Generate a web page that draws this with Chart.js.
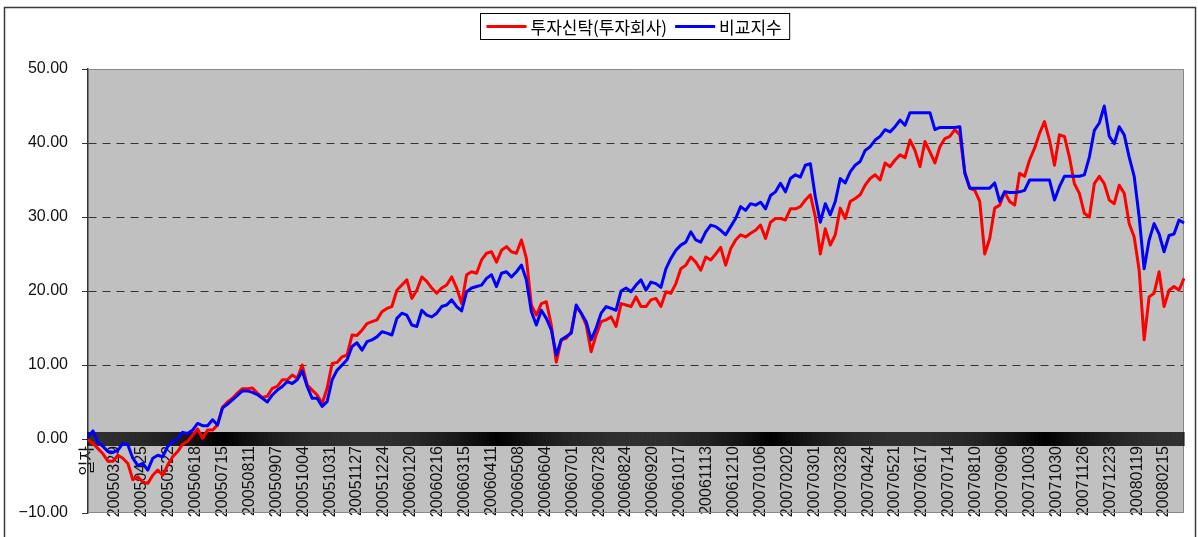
<!DOCTYPE html>
<html>
<head>
<meta charset="utf-8">
<script src="https://cdn.jsdelivr.net/npm/chart.js@4.4.1/dist/chart.umd.min.js"></script>
<style>
html,body{margin:0;padding:0;background:#fff;}
canvas{display:block;}
</style>
</head>
<body>
<canvas id="c" width="1198" height="537"></canvas>
<script>
// ---------- data ----------
const seriesNames = ['투자신탁(투자회사)', '비교지수'];
const categoryCount = 1101;      // one category per calendar day from 2005-03-02
const sampleStep = 5;            // values read every 5th day
const tickStep = 27;             // a label every 27th category
const tickLabels = ['일자','20050329','20050425','20050522','20050618','20050715','20050811','20050907',
  '20051004','20051031','20051127','20051224','20060120','20060216','20060315','20060411','20060508',
  '20060604','20060701','20060728','20060824','20060920','20061017','20061113','20061210','20070106',
  '20070202','20070301','20070328','20070424','20070521','20070617','20070714','20070810','20070906',
  '20071003','20071030','20071126','20071223','20080119','20080215'];

const fundValues = [
  -0.1,-0.6,-1.3,-2.0,-3.0,-3.0,-2.2,-2.6,-3.3,-5.5,-5.1,-5.8,-6.0,-4.9,-4.2,-4.9,-3.5,-2.4,-1.7,-0.7,
  -0.3,0.5,1.35,0.1,1.2,1.2,1.9,4.3,5.0,5.5,6.2,6.8,6.8,6.9,6.2,5.6,5.8,6.85,
  7.1,8.0,8.0,8.65,8.2,10.0,7.3,6.6,5.95,4.8,6.85,10.2,10.35,11.1,11.35,14.05,14.0,14.7,15.6,15.85,16.1,
  17.2,17.65,17.9,20.1,20.8,21.5,19.0,20.1,21.9,21.3,20.4,19.7,20.4,20.8,21.9,20.4,
  18.3,22.2,22.6,22.4,24.2,25.1,25.3,23.9,25.5,26.0,25.3,25.1,26.9,24.4,18.1,16.75,18.3,18.55,15.4,10.4,
  13.4,13.6,14.5,17.9,17.0,15.4,11.8,14.05,15.85,16.1,16.5,15.2,18.3,18.1,17.9,19.2,17.9,
  17.9,18.8,19.0,17.9,19.9,19.7,21.0,23.0,23.5,24.6,23.9,22.8,24.6,24.2,25.0,25.9,23.5,25.7,26.9,27.6,
  27.3,27.8,28.2,28.9,27.1,29.3,29.8,29.8,29.6,31.1,31.1,31.4,32.3,33.0,30.0,25.0,28.4,
  26.2,27.6,31.2,29.8,32.1,32.5,33.0,34.3,35.2,35.7,35.0,37.3,36.8,37.7,38.4,38.0,40.4,39.0,36.8,40.2,
  38.8,37.3,39.5,40.6,40.9,41.8,41.1,36.1,33.9,33.6,32.1,25.0,27.1,31.2,31.6,33.4,32.1,31.6,
  35.9,35.5,37.7,39.3,41.3,42.9,40.4,37.0,41.1,40.9,38.1,34.5,33.2,30.5,30.0,34.5,35.5,34.5,32.3,31.8,
  34.3,33.2,29.1,27.3,22.8,13.4,19.2,19.7,22.6,17.9,20.1,20.6,20.1,21.7
];
const indexValues = [
  0.3,1.1,-0.45,-1.0,-1.7,-1.8,-1.5,-0.6,-0.8,-2.6,-3.6,-3.3,-4.2,-2.6,-2.2,-2.4,-1.0,-0.4,0.1,0.9,
  0.75,1.2,2.1,1.8,1.8,2.6,1.9,4.2,4.7,5.3,5.9,6.5,6.5,6.3,6.0,5.5,5.0,5.95,
  6.6,7.1,7.75,7.5,8.0,9.2,7.1,5.5,5.5,4.4,5.05,8.0,9.3,10.0,10.7,12.5,13.0,12.0,13.15,13.4,13.8,
  14.5,14.3,14.05,16.3,17.0,16.75,15.4,15.2,17.4,16.75,16.5,17.0,17.9,18.1,18.8,17.9,
  17.3,19.9,20.4,20.6,20.8,21.7,22.2,20.6,22.4,22.6,21.9,22.6,23.5,21.5,17.2,15.4,17.4,16.3,14.75,11.35,
  13.4,13.85,14.3,18.1,17.0,15.85,13.4,15.0,17.0,17.9,17.65,17.4,20.0,20.4,19.9,20.8,21.5,
  20.1,21.2,21.0,20.5,23.0,24.4,25.5,26.2,26.6,28.0,26.9,26.6,28.0,28.9,28.7,28.2,27.6,28.7,29.8,31.4,
  30.9,31.8,31.6,32.0,31.1,32.9,33.4,34.55,33.4,35.2,35.7,35.4,37.0,37.2,32.7,29.3,31.8,
  30.3,32.1,35.2,34.6,36.1,37.0,37.5,39.0,39.5,40.4,40.9,41.8,41.5,42.2,43.1,42.4,44.1,44.1,44.1,44.1,
  44.1,41.8,42.1,42.1,42.1,42.1,42.2,35.9,33.9,33.9,33.9,33.9,33.9,34.6,32.1,33.4,33.3,33.3,
  33.4,33.6,35.0,35.0,35.0,35.0,35.0,32.3,34.1,35.5,35.5,35.5,35.5,35.7,38.1,41.7,42.7,45.0,40.9,39.9,
  42.2,41.1,38.1,35.5,30.0,23.0,26.9,29.1,27.7,25.3,27.5,27.7,29.6,29.2
];
const yMin = -10, yMax = 50, yStep = 10;

// ---------- categories ----------
const categories = [];
for (let i = 0; i < categoryCount; i++) {
  const d = new Date(2005, 2, 2 + i);
  categories.push(i === 0 ? '일자' :
    '' + d.getFullYear() + String(d.getMonth() + 1).padStart(2, '0') + String(d.getDate()).padStart(2, '0'));
}
const expand = vals => categories.map((_, i) => (i % sampleStep === 0 ? vals[i / sampleStep] : null));

const latin = '"Liberation Sans", Arial, "Noto Sans CJK KR", sans-serif';

// ---------- plugins ----------
const framePlugin = {
  id: 'frame',
  beforeDraw(chart) {
    const {ctx, chartArea: a} = chart;
    ctx.save();
    ctx.fillStyle = '#ffffff';
    ctx.fillRect(0, 0, chart.width, chart.height);
    ctx.strokeStyle = '#3a3a3a';
    ctx.lineWidth = 1.5;
    ctx.strokeRect(4.5, 7.5, 1191, 600);
    ctx.fillStyle = '#c0c0c0';
    ctx.fillRect(a.left, a.top, a.right - a.left, a.bottom - a.top);
    ctx.restore();
  },
  beforeDatasetsDraw(chart) {
    const {ctx, chartArea: a, scales: {x, y}} = chart;
    ctx.save();
    ctx.strokeStyle = '#888888';
    ctx.lineWidth = 1;
    ctx.beginPath();
    ctx.moveTo(a.left, a.top + 0.5); ctx.lineTo(a.right - 0.5, a.top + 0.5);
    ctx.lineTo(a.right - 0.5, a.bottom - 0.5); ctx.lineTo(a.left, a.bottom - 0.5);
    ctx.stroke();
    // crossing tick marks of the category axis at y = 0
    const y0 = y.getPixelForValue(0);
    ctx.strokeStyle = '#000000';
    ctx.lineWidth = 1;
    ctx.beginPath();
    for (let i = 0; i < categoryCount; i++) {
      const px = x.getPixelForValue(i);
      ctx.moveTo(px, y0 - 7);
      ctx.lineTo(px, y0 + 7);
    }
    ctx.stroke();
    ctx.restore();
  },
  afterDraw(chart) {
    const ctx = chart.ctx;
    const ds = chart.data.datasets;
    ctx.save();
    ctx.font = '17px "Noto Sans CJK KR", sans-serif';
    const items = ds.map(d => ({color: d.borderColor, text: d.label, w: ctx.measureText(d.label).width}));
    const lineLen = 40, gap = 4, itemGap = 8, padL = 6, padR = 8;
    let total = padL + padR;
    items.forEach((it, i) => { total += lineLen + gap + it.w + (i < items.length - 1 ? itemGap : 0); });
    const cx = 634.5, top = 13.5, h = 26;
    const left = Math.round(cx - total / 2) + 0.5;
    ctx.fillStyle = '#ffffff';
    ctx.fillRect(left, top, total, h);
    ctx.strokeStyle = '#000000';
    ctx.lineWidth = 1;
    ctx.strokeRect(left, top, total, h);
    let xx = left + padL;
    const cy = top + h / 2;
    ctx.textBaseline = 'middle';
    ctx.textAlign = 'left';
    items.forEach(it => {
      ctx.strokeStyle = it.color;
      ctx.lineWidth = 3;
      ctx.beginPath();
      ctx.moveTo(xx, cy); ctx.lineTo(xx + lineLen, cy);
      ctx.stroke();
      xx += lineLen + gap;
      ctx.fillStyle = '#000000';
      ctx.fillText(it.text, xx, cy + 1);
      xx += it.w + itemGap;
    });
    ctx.restore();
  }
};

// ---------- chart ----------
new Chart(document.getElementById('c'), {
  type: 'line',
  data: {
    labels: categories,
    datasets: [
      {label: seriesNames[0], data: expand(fundValues), borderColor: '#ff0000', backgroundColor: '#ff0000',
       borderWidth: 3, pointRadius: 0, spanGaps: true, tension: 0, borderJoinStyle: 'round', order: 1},
      {label: seriesNames[1], data: expand(indexValues), borderColor: '#0000ff', backgroundColor: '#0000ff',
       borderWidth: 3, pointRadius: 0, spanGaps: true, tension: 0, borderJoinStyle: 'round', order: 0}
    ]
  },
  options: {
    responsive: false,
    animation: false,
    devicePixelRatio: 1,
    layout: {padding: {top: 69, right: 14, bottom: 24, left: 0}},
    plugins: {legend: {display: false}, tooltip: {enabled: false}, title: {display: false}},
    scales: {
      x: {
        type: 'category',
        position: {y: 0},
        offset: false,
        afterFit(s) { s.paddingLeft = 0; s.paddingRight = 0; },
        grid: {display: false, drawTicks: false},
        border: {display: false},
        ticks: {
          autoSkip: false, maxRotation: 90, minRotation: 90, padding: 7,
          color: '#111111', font: {family: latin, size: 16},
          callback(v, i) { return i % tickStep === 0 ? tickLabels[i / tickStep] : ''; }
        }
      },
      y: {
        min: yMin, max: yMax,
        afterFit(s) { s.width = 88; },
        ticks: {
          stepSize: yStep, padding: 14, color: '#111111', font: {family: latin, size: 16},
          callback: v => (v < 0 ? '\u2212' : '') + Math.abs(v).toFixed(2)
        },
        grid: {
          color: c => (c.tick && c.tick.value > yMin && c.tick.value < yMax && c.tick.value !== 0) ? '#333333' : 'rgba(0,0,0,0)',
          lineWidth: 1, tickLength: 6, tickColor: '#333333', drawTicks: true
        },
        border: {display: true, color: '#333333', width: 1.5, dash: [8, 6]}
      }
    }
  },
  plugins: [framePlugin]
});
</script>
</body>
</html>
